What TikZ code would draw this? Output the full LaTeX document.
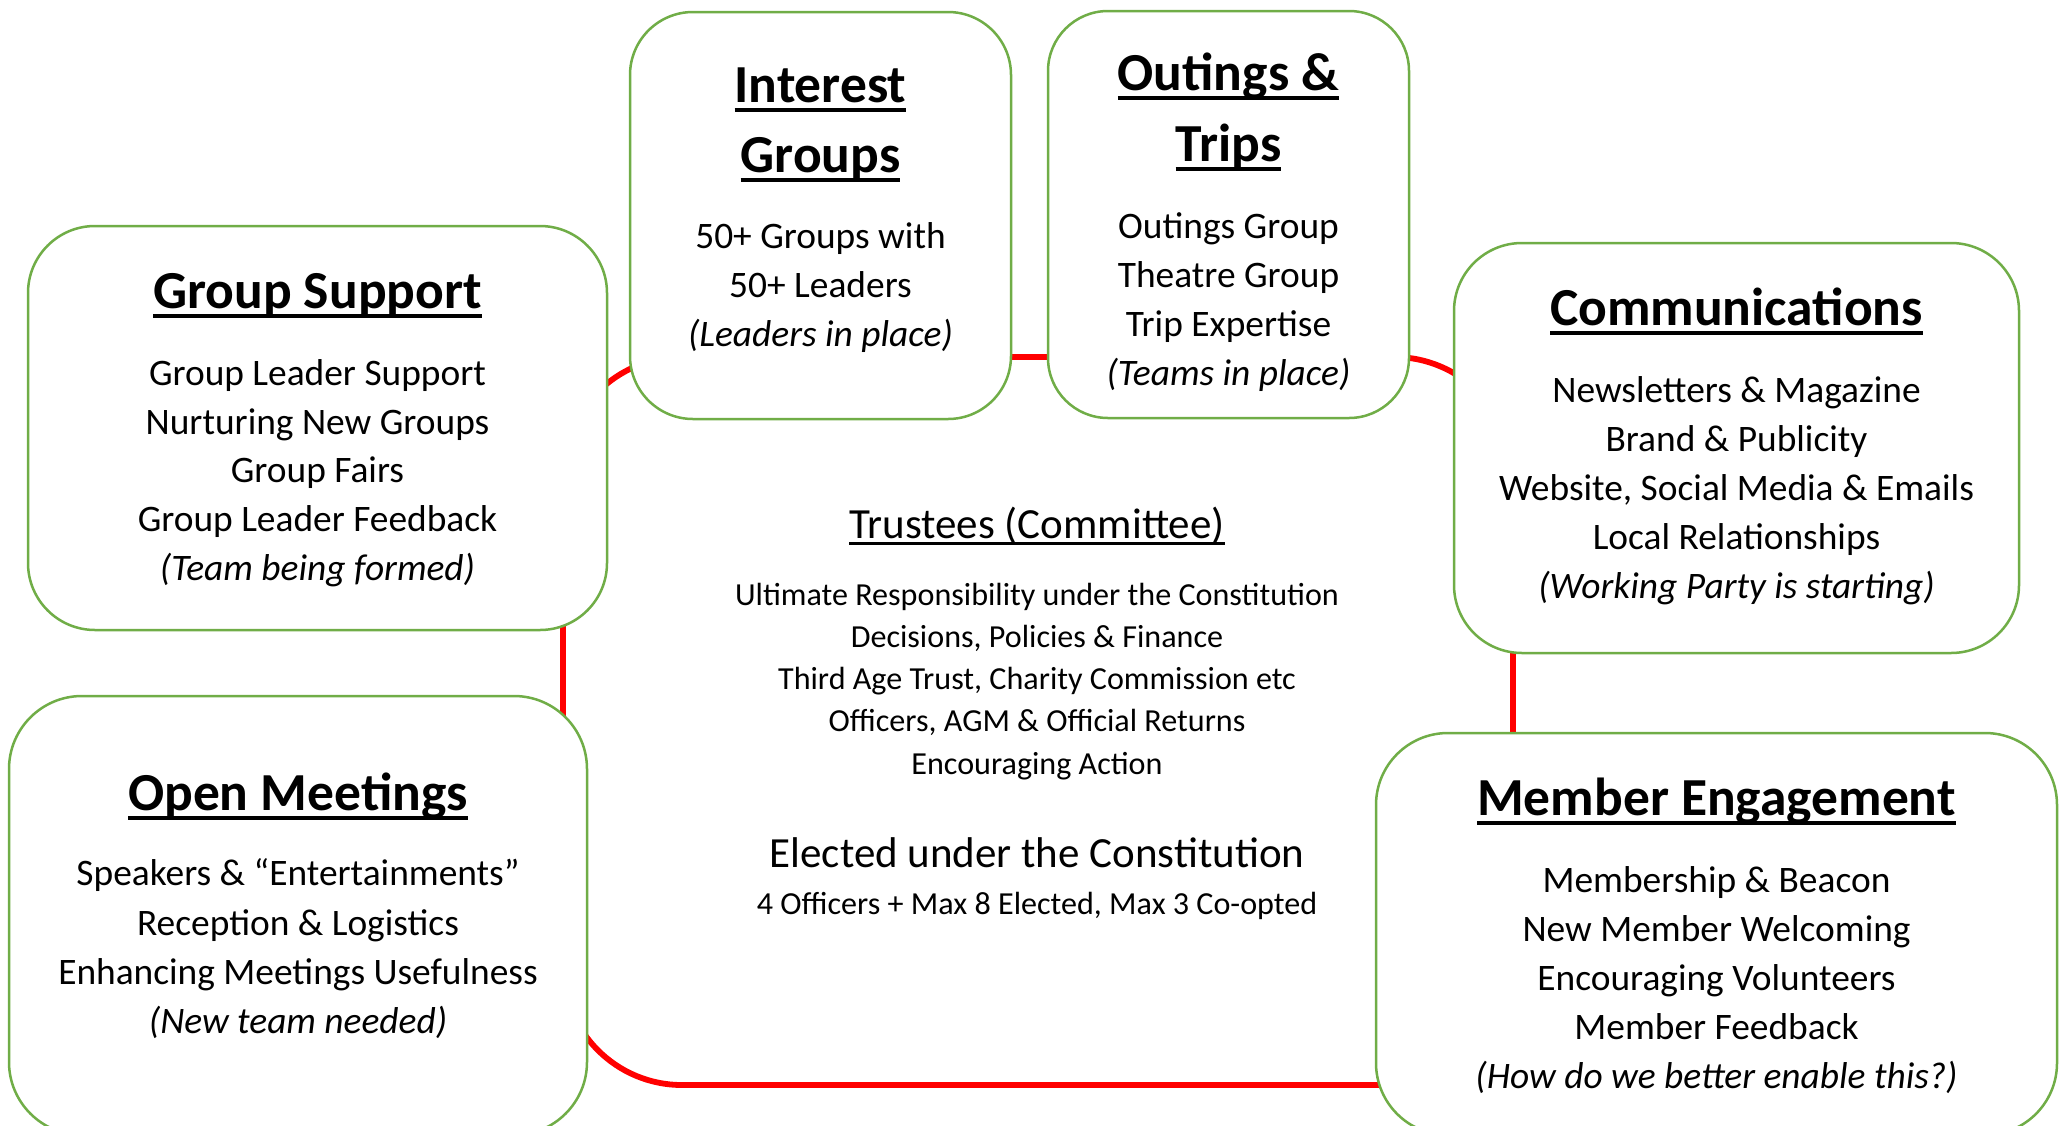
\documentclass[tikz,border=0pt]{standalone}
\usepackage{fontspec}
\setmainfont{Carlito}
\definecolor{boxgreen}{HTML}{70AD47}
\definecolor{linkred}{HTML}{FF0000}
\newcommand\myuline[3]{\setbox0=\hbox{#3}\rlap{\rule[-#1]{\wd0}{#2}}\box0}
\newcommand\ttlul[1]{\myuline{0.18em}{0.075em}{#1}}
\newcommand\trul[1]{\myuline{0.14em}{0.06em}{#1}}
\tikzset{
  box/.style={draw=boxgreen, line width=2.5pt, fill=white, rounded corners=#1, inner sep=0pt},
  box/.default=68pt,
  ttl/.style={font=\fontsize{53.5}{66}\selectfont\bfseries, anchor=base, inner sep=0pt},
  bdy/.style={font=\fontsize{37.4}{49}\selectfont, anchor=base, inner sep=0pt},
  ita/.style={font=\fontsize{37.4}{49}\selectfont\itshape, anchor=base, inner sep=0pt},
  trbig/.style={font=\fontsize{43}{52}\selectfont, anchor=base, inner sep=0pt},
  trbdy/.style={font=\fontsize{32.1}{40}\selectfont, anchor=base, inner sep=0pt},
  redline/.style={draw=linkred, line width=5.8pt, rounded corners=119pt}
}
\begin{document}
\begin{tikzpicture}[x=1pt,y=-1pt]
\useasboundingbox (0,0) rectangle (2072,1125);
\clip (0,0) rectangle (2072,1125);
% red loop behind the boxes
\coordinate (loopnw) at (563,357);
\coordinate (loopse) at (1513,1085);
\draw[redline] (loopnw) rectangle (loopse);
% boxes
\node[box=63pt, minimum width=381pt, minimum height=407pt] (ig) at (820.5,215.5) {};
\node[box=60pt, minimum width=361pt, minimum height=407pt] (ot) at (1228.5,214.5) {};
\node[box=67pt, minimum width=579pt, minimum height=404pt] (gs) at (317.5,428) {};
\node[box=68pt, minimum width=565pt, minimum height=410pt] (cm) at (1736.5,448) {};
\node[box=73pt, minimum width=578pt, minimum height=439pt] (om) at (298,915.5) {};
\node[box=72pt, minimum width=681pt, minimum height=402pt] (me) at (1716.5,934) {};
% Interest Groups
\node[ttl] (igt1) at (820.5,102) {\ttlul{Interest}};
\node[ttl] (igt2) at (820.5,172) {\ttlul{Groups}};
\node[bdy] (ig1) at (820.5,248.5) {50+ Groups with};
\node[bdy] (ig2) at (820.5,297.4) {50+ Leaders};
\node[ita] (ig3) at (820.5,346.3) {(Leaders in place)};
% Outings & Trips
\node[ttl] (ott1) at (1228.5,90) {\ttlul{Outings \&}};
\node[ttl] (ott2) at (1228.5,161) {\ttlul{Trips}};
\node[bdy] (ot1) at (1228.5,238) {Outings Group};
\node[bdy] (ot2) at (1228.5,287) {Theatre Group};
\node[bdy] (ot3) at (1228.5,336) {Trip Expertise};
\node[ita] (ot4) at (1228.5,385) {(Teams in place)};
% Group Support
\node[ttl] (gst) at (317.5,308) {\ttlul{Group Support}};
\node[bdy] (gs1) at (317.5,385) {Group Leader Support};
\node[bdy] (gs2) at (317.5,434) {Nurturing New Groups};
\node[bdy] (gs3) at (317.5,482) {Group Fairs};
\node[bdy] (gs4) at (317.5,531) {Group Leader Feedback};
\node[ita] (gs5) at (317.5,580) {(Team being formed)};
% Communications
\node[ttl] (cmt) at (1736.5,325) {\ttlul{Communications}};
\node[bdy] (cm1) at (1736.5,402) {Newsletters \& Magazine};
\node[bdy] (cm2) at (1736.5,451) {Brand \& Publicity};
\node[bdy] (cm3) at (1736.5,500) {Website, Social Media \& Emails};
\node[bdy] (cm4) at (1736.5,549) {Local Relationships};
\node[ita] (cm5) at (1736.5,598) {(Working Party is starting)};
% Open Meetings
\node[ttl] (omt) at (298,810) {\ttlul{Open Meetings}};
\node[bdy] (om1) at (298,885.5) {Speakers \& “Entertainments”};
\node[bdy] (om2) at (298,935.7) {Reception \& Logistics};
\node[bdy] (om3) at (298,984.5) {Enhancing Meetings Usefulness};
\node[ita] (om4) at (298,1033) {(New team needed)};
% Member Engagement
\node[ttl] (met) at (1716.5,815) {\ttlul{Member Engagement}};
\node[bdy] (me1) at (1716.5,892) {Membership \& Beacon};
\node[bdy] (me2) at (1716.5,941) {New Member Welcoming};
\node[bdy] (me3) at (1716.5,990) {Encouraging Volunteers};
\node[bdy] (me4) at (1716.5,1039) {Member Feedback};
\node[ita] (me5) at (1716.5,1088) {(How do we better enable this?)};
% Trustees
\node[trbig] (trt) at (1037,538.6) {\trul{Trustees (Committee)}};
\node[trbdy] (tr1) at (1037,605) {Ultimate Responsibility under the Constitution};
\node[trbdy] (tr2) at (1037,647.3) {Decisions, Policies \& Finance};
\node[trbdy] (tr3) at (1037,689.6) {Third Age Trust, Charity Commission etc};
\node[trbdy] (tr4) at (1037,731.9) {Officers, AGM \& Official Returns};
\node[trbdy] (tr5) at (1037,774.2) {Encouraging Action};
\node[trbig] (tr6) at (1037,867.6) {Elected under the Constitution};
\node[trbdy] (tr7) at (1037,914.2) {4 Officers + Max 8 Elected, Max 3 Co-opted};
\end{tikzpicture}
\end{document}
